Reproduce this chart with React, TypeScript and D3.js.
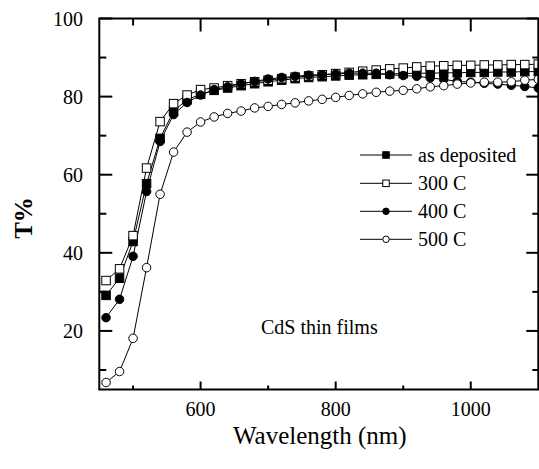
import React from "react";
import * as d3 from "d3";

const wavelengths = [460,480,500,520,540,560,580,600,620,640,660,680,700,720,740,760,780,800,820,840,860,880,900,920,940,960,980,1000,1020,1040,1060,1080,1100];

const asDeposited = [29.1,33.5,42.9,57.7,69.3,76.3,79.2,80.6,81.6,82.2,82.8,83.3,83.8,84.2,84.6,84.9,85.1,85.3,85.5,85.6,85.7,85.8,85.9,86.0,86.0,86.1,86.1,86.2,86.2,86.3,86.3,86.4,86.4];
const c300 = [32.9,35.9,44.4,61.7,73.6,78.2,80.4,81.8,82.2,82.8,83.3,83.8,84.2,84.6,85.0,85.3,85.6,85.9,86.2,86.5,86.8,87.1,87.3,87.6,87.8,87.9,88.0,88.0,88.1,88.1,88.2,88.2,88.3];
const c400 = [23.4,28.1,39.1,55.7,68.5,75.4,78.5,80.4,81.8,82.5,83.3,83.9,84.5,84.9,85.2,85.5,85.6,85.8,86.0,86.0,86.0,85.6,85.4,85.2,84.8,84.4,83.9,83.7,83.4,83.2,82.9,82.6,82.2];
const c500 = [6.8,9.6,18.1,36.2,55.0,65.8,70.9,73.5,74.8,75.7,76.3,77.1,77.5,78.0,78.4,78.9,79.3,79.8,80.3,80.7,81.1,81.4,81.6,82.0,82.5,82.8,83.2,83.5,83.7,83.7,83.8,84.2,84.4];

const seriesNames = ["as deposited", "300 C", "400 C", "500 C"];
const seriesValues = [asDeposited, c300, c400, c500];
const seriesShapes = ["square", "square", "circle", "circle"];
const seriesFilled = [true, false, true, false];

const xMajor = [600, 800, 1000];
const xMinor = [500, 700, 900];
const yMajor = [20, 40, 60, 80, 100];
const yMinor = [10, 30, 50, 70, 90];

const L = 99.3, R = 538.3, T = 18.5, B = 389.5;
const FONT = "Liberation Serif, DejaVu Serif, serif";
const txt = (size: number, bold = false): React.CSSProperties => ({ fontFamily: FONT, fontSize: size + "px", fontWeight: bold ? 700 : 400 });

function Marker({ shape, filled, x, y, size }: { shape: string; filled: boolean; x: number; y: number; size: number }) {
  const fill = filled ? "#000" : "#fff";
  if (shape === "square") {
    return <rect x={x - size / 2} y={y - size / 2} width={size} height={size} fill={fill} stroke="#000" strokeWidth={1} />;
  }
  return <circle cx={x} cy={y} r={size / 2} fill={fill} stroke="#000" strokeWidth={1} />;
}

export default function App() {
  const x = d3.scaleLinear().domain([450, 1100]).range([L, R]);
  const y = d3.scaleLinear().domain([5, 100]).range([B, T]);
  const line = d3.line<number>().x((_, i) => x(wavelengths[i])).y((v) => y(v));

  const legendY = [155, 183.3, 211.3, 239.3];

  return (
    <svg width={539} height={469} style={{ position: "absolute", left: 0, top: 0, background: "#fff" }}>
      <rect x={0} y={0} width={539} height={469} fill="#fff" />
      <defs>
        <clipPath id="plotclip">
          <rect x={L} y={T} width={R - L} height={B - T} />
        </clipPath>
      </defs>
      <g clipPath="url(#plotclip)">
        {seriesValues.map((vals, s) => (
          <path key={"l" + s} d={line(vals) || ""} fill="none" stroke="#000" strokeWidth={1} />
        ))}
      </g>
      {seriesValues.map((vals, s) => (
        <g key={"m" + s}>
          {vals.map((v, i) => (
            <Marker key={i} shape={seriesShapes[s]} filled={seriesFilled[s]} x={x(wavelengths[i])} y={y(v)} size={8.5} />
          ))}
        </g>
      ))}
      {/* frame */}
      <rect x={L} y={T} width={R - L} height={B - T} fill="none" stroke="#000" strokeWidth={2} />
      {/* x ticks */}
      {xMajor.map((t) => (
        <g key={"xM" + t}>
          <line x1={x(t)} x2={x(t)} y1={B} y2={B - 8} stroke="#000" strokeWidth={2} />
          <line x1={x(t)} x2={x(t)} y1={T} y2={T + 13} stroke="#000" strokeWidth={2} />
          <text x={x(t)} y={416} textAnchor="middle" style={txt(20)} fill="#000">{t}</text>
        </g>
      ))}
      {xMinor.map((t) => (
        <g key={"xm" + t}>
          <line x1={x(t)} x2={x(t)} y1={B} y2={B - 4} stroke="#000" strokeWidth={2} />
          <line x1={x(t)} x2={x(t)} y1={T} y2={T + 7} stroke="#000" strokeWidth={2} />
        </g>
      ))}
      {/* y ticks */}
      {yMajor.map((t) => (
        <g key={"yM" + t}>
          <line x1={L} x2={L + 13} y1={y(t)} y2={y(t)} stroke="#000" strokeWidth={2} />
          <line x1={R} x2={R - 12} y1={y(t)} y2={y(t)} stroke="#000" strokeWidth={2} />
          <text x={83} y={y(t) + 7} textAnchor="end" style={txt(20)} fill="#000">{t}</text>
        </g>
      ))}
      {yMinor.map((t) => (
        <g key={"ym" + t}>
          <line x1={L} x2={L + 7} y1={y(t)} y2={y(t)} stroke="#000" strokeWidth={2} />
          <line x1={R} x2={R - 6} y1={y(t)} y2={y(t)} stroke="#000" strokeWidth={2} />
        </g>
      ))}
      {/* axis titles */}
      <text x={(L + R) / 2 + 1} y={444} textAnchor="middle" style={txt(25)} fill="#000">Wavelength (nm)</text>
      <text transform="translate(32,218) rotate(-90)" textAnchor="middle" style={txt(25, true)} fill="#000">T%</text>
      {/* annotation */}
      <text x={261} y={334} style={txt(20)} fill="#000">CdS thin films</text>
      {/* legend */}
      {seriesNames.map((name, s) => (
        <g key={"lg" + s}>
          <line x1={360} x2={412} y1={legendY[s]} y2={legendY[s]} stroke="#000" strokeWidth={1} />
          <Marker shape={seriesShapes[s]} filled={seriesFilled[s]} x={386} y={legendY[s]} size={6.5} />
          <text x={418} y={legendY[s] + 7} style={txt(20)} fill="#000">{name}</text>
        </g>
      ))}
    </svg>
  );
}
